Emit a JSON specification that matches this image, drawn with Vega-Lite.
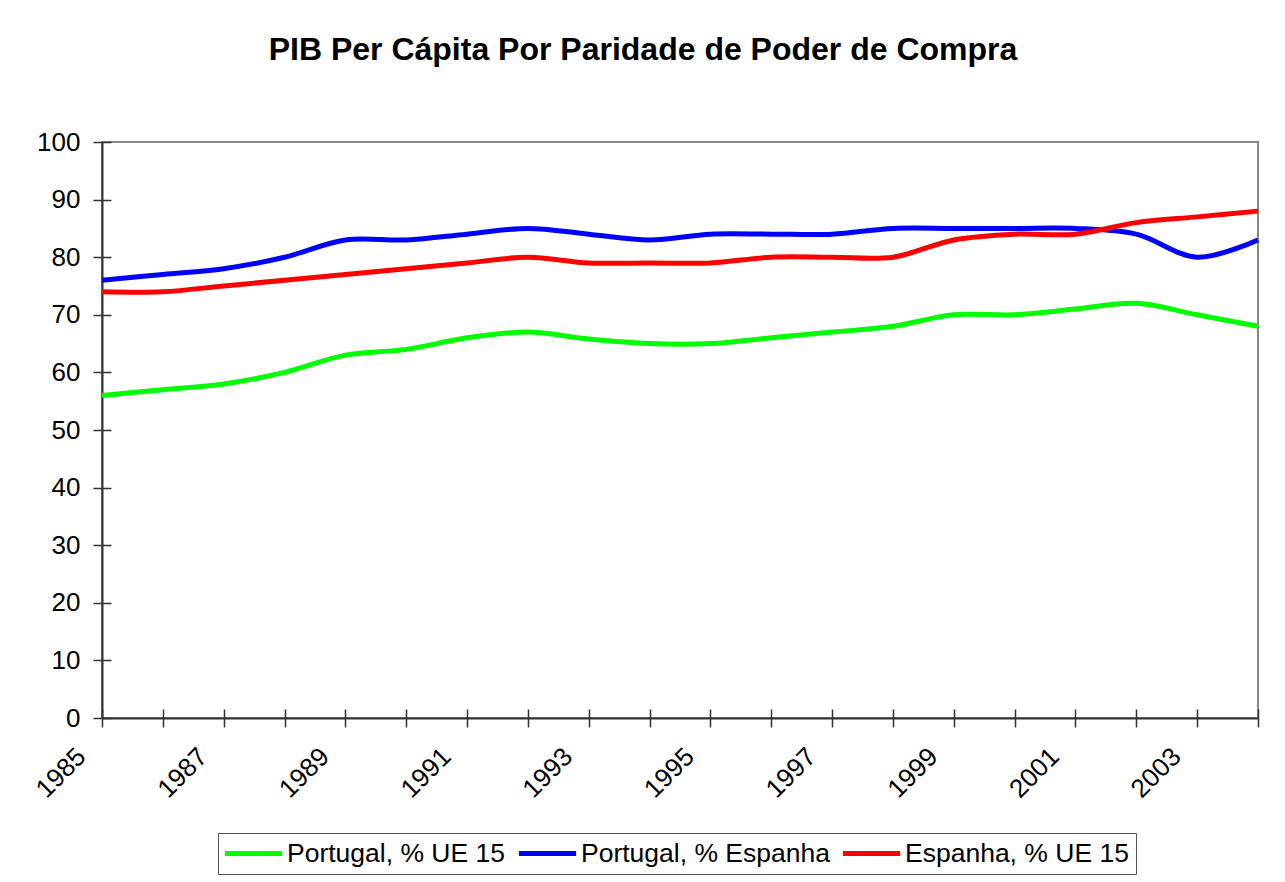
{
  "$schema": "https://vega.github.io/schema/vega-lite/v6.json",
  "width": 1156,
  "height": 576,
  "autosize": {"type": "none"},
  "padding": {"left": 102, "top": 142, "right": 27, "bottom": 164},
  "background": "white",
  "title": {
    "text": "PIB Per Cápita Por Paridade de Poder de Compra",
    "font": "Liberation Sans",
    "fontSize": 32,
    "fontWeight": "bold",
    "color": "black",
    "anchor": "middle",
    "frame": "group",
    "dx": -37,
    "offset": 62
  },
  "data": {
    "values": [
      {"year": 1985, "series": "Portugal, % UE 15", "value": 56},
      {"year": 1986, "series": "Portugal, % UE 15", "value": 57},
      {"year": 1987, "series": "Portugal, % UE 15", "value": 58},
      {"year": 1988, "series": "Portugal, % UE 15", "value": 60},
      {"year": 1989, "series": "Portugal, % UE 15", "value": 63},
      {"year": 1990, "series": "Portugal, % UE 15", "value": 64},
      {"year": 1991, "series": "Portugal, % UE 15", "value": 66},
      {"year": 1992, "series": "Portugal, % UE 15", "value": 67},
      {"year": 1993, "series": "Portugal, % UE 15", "value": 65.8},
      {"year": 1994, "series": "Portugal, % UE 15", "value": 65},
      {"year": 1995, "series": "Portugal, % UE 15", "value": 65},
      {"year": 1996, "series": "Portugal, % UE 15", "value": 66},
      {"year": 1997, "series": "Portugal, % UE 15", "value": 67},
      {"year": 1998, "series": "Portugal, % UE 15", "value": 68},
      {"year": 1999, "series": "Portugal, % UE 15", "value": 70},
      {"year": 2000, "series": "Portugal, % UE 15", "value": 70},
      {"year": 2001, "series": "Portugal, % UE 15", "value": 71},
      {"year": 2002, "series": "Portugal, % UE 15", "value": 72},
      {"year": 2003, "series": "Portugal, % UE 15", "value": 70},
      {"year": 2004, "series": "Portugal, % UE 15", "value": 68},
      {"year": 1985, "series": "Portugal, % Espanha", "value": 76},
      {"year": 1986, "series": "Portugal, % Espanha", "value": 77},
      {"year": 1987, "series": "Portugal, % Espanha", "value": 78},
      {"year": 1988, "series": "Portugal, % Espanha", "value": 80},
      {"year": 1989, "series": "Portugal, % Espanha", "value": 83},
      {"year": 1990, "series": "Portugal, % Espanha", "value": 83},
      {"year": 1991, "series": "Portugal, % Espanha", "value": 84},
      {"year": 1992, "series": "Portugal, % Espanha", "value": 85},
      {"year": 1993, "series": "Portugal, % Espanha", "value": 84},
      {"year": 1994, "series": "Portugal, % Espanha", "value": 83},
      {"year": 1995, "series": "Portugal, % Espanha", "value": 84},
      {"year": 1996, "series": "Portugal, % Espanha", "value": 84},
      {"year": 1997, "series": "Portugal, % Espanha", "value": 84},
      {"year": 1998, "series": "Portugal, % Espanha", "value": 85},
      {"year": 1999, "series": "Portugal, % Espanha", "value": 85},
      {"year": 2000, "series": "Portugal, % Espanha", "value": 85},
      {"year": 2001, "series": "Portugal, % Espanha", "value": 85},
      {"year": 2002, "series": "Portugal, % Espanha", "value": 84},
      {"year": 2003, "series": "Portugal, % Espanha", "value": 80},
      {"year": 2004, "series": "Portugal, % Espanha", "value": 83},
      {"year": 1985, "series": "Espanha, % UE 15", "value": 74},
      {"year": 1986, "series": "Espanha, % UE 15", "value": 74},
      {"year": 1987, "series": "Espanha, % UE 15", "value": 75},
      {"year": 1988, "series": "Espanha, % UE 15", "value": 76},
      {"year": 1989, "series": "Espanha, % UE 15", "value": 77},
      {"year": 1990, "series": "Espanha, % UE 15", "value": 78},
      {"year": 1991, "series": "Espanha, % UE 15", "value": 79},
      {"year": 1992, "series": "Espanha, % UE 15", "value": 80},
      {"year": 1993, "series": "Espanha, % UE 15", "value": 79},
      {"year": 1994, "series": "Espanha, % UE 15", "value": 79},
      {"year": 1995, "series": "Espanha, % UE 15", "value": 79},
      {"year": 1996, "series": "Espanha, % UE 15", "value": 80},
      {"year": 1997, "series": "Espanha, % UE 15", "value": 80},
      {"year": 1998, "series": "Espanha, % UE 15", "value": 80},
      {"year": 1999, "series": "Espanha, % UE 15", "value": 83},
      {"year": 2000, "series": "Espanha, % UE 15", "value": 84},
      {"year": 2001, "series": "Espanha, % UE 15", "value": 84},
      {"year": 2002, "series": "Espanha, % UE 15", "value": 86},
      {"year": 2003, "series": "Espanha, % UE 15", "value": 87},
      {"year": 2004, "series": "Espanha, % UE 15", "value": 88}
    ]
  },
  "resolve": {"axis": {"x": "independent", "y": "independent"}},
  "layer": [
    {
      "mark": {"type": "line", "strokeOpacity": 0, "clip": false},
      "encoding": {
        "x": {
          "field": "year",
          "type": "quantitative",
          "scale": {"domain": [1985, 2004], "nice": false, "zero": false},
          "axis": {
            "orient": "bottom",
            "title": null,
            "grid": false,
            "labels": false,
            "domain": false,
            "values": [1985, 1986, 1987, 1988, 1989, 1990, 1991, 1992, 1993, 1994, 1995, 1996, 1997, 1998, 1999, 2000, 2001, 2002, 2003, 2004],
            "tickSize": -9,
            "tickColor": "#333",
            "tickWidth": 1.5
          }
        },
        "y": {
          "field": "value",
          "type": "quantitative",
          "scale": {"domain": [0, 100], "nice": false},
          "axis": {
            "orient": "left",
            "title": null,
            "grid": false,
            "labels": false,
            "domain": false,
            "values": [0, 10, 20, 30, 40, 50, 60, 70, 80, 90, 100],
            "tickSize": -9,
            "tickColor": "#333",
            "tickWidth": 1.5
          }
        }
      }
    },
    {
      "mark": {"type": "line", "interpolate": "catmull-rom", "strokeWidth": 5, "clip": false},
      "encoding": {
        "x": {
          "field": "year",
          "type": "quantitative",
          "scale": {"domain": [1985, 2004], "nice": false, "zero": false},
          "axis": {
            "orient": "bottom",
            "title": null,
            "grid": false,
            "values": [1985, 1986, 1987, 1988, 1989, 1990, 1991, 1992, 1993, 1994, 1995, 1996, 1997, 1998, 1999, 2000, 2001, 2002, 2003, 2004],
            "format": "d",
            "labelExpr": "datum.value % 2 == 1 ? datum.label : ''",
            "labelAngle": -45,
            "labelAlign": "right",
            "labelBaseline": "top",
            "labelOffset": -30,
            "labelPadding": 16,
            "labelFont": "Liberation Sans",
            "labelFontSize": 26,
            "labelColor": "black",
            "labelOverlap": false,
            "labelFlush": false,
            "tickSize": 9,
            "tickColor": "#333",
            "tickWidth": 1.5,
            "domainColor": "#333",
            "domainWidth": 2
          }
        },
        "y": {
          "field": "value",
          "type": "quantitative",
          "scale": {"domain": [0, 100], "nice": false},
          "axis": {
            "orient": "left",
            "title": null,
            "grid": false,
            "values": [0, 10, 20, 30, 40, 50, 60, 70, 80, 90, 100],
            "labelFont": "Liberation Sans",
            "labelFontSize": 26,
            "labelColor": "black",
            "labelPadding": 13,
            "labelOverlap": false,
            "labelFlush": false,
            "tickSize": 9,
            "tickColor": "#333",
            "tickWidth": 1.5,
            "domainColor": "#333",
            "domainWidth": 2
          }
        },
        "color": {
          "field": "series",
          "type": "nominal",
          "scale": {
            "domain": ["Portugal, % UE 15", "Portugal, % Espanha", "Espanha, % UE 15"],
            "range": ["#00ff00", "#0000ff", "#ff0000"]
          },
          "legend": {
            "title": null,
            "orient": "none",
            "direction": "horizontal",
            "legendX": 116,
            "legendY": 691,
            "padding": 7,
            "strokeColor": "#555",
            "fillColor": "white",
            "symbolType": "M-2.6,0H2.6",
            "symbolSize": 484,
            "symbolStrokeWidth": 5,
            "symbolOffset": 15,
            "labelFont": "Liberation Sans",
            "labelFontSize": 26.5,
            "labelColor": "black",
            "labelOffset": 20,
            "columnPadding": 2,
            "labelLimit": 400
          }
        }
      }
    }
  ],
  "config": {
    "view": {"stroke": "#888", "strokeWidth": 2}
  }
}
